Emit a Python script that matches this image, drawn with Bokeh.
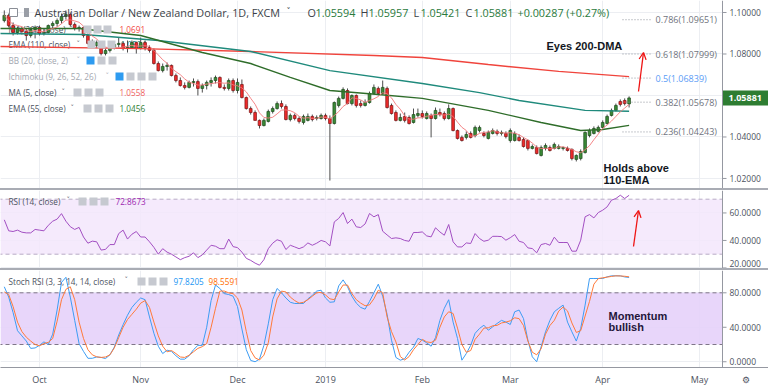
import pandas as pd
from bokeh.plotting import figure
from bokeh.layouts import column
from bokeh.models import (Range1d, FixedTicker, Label, Span, BoxAnnotation, Arrow,
                          OpenHead, Div, ColumnDataSource)
from bokeh.core.properties import value
from bokeh.embed import file_html
from bokeh.resources import INLINE

# ------------------------------------------------------------------ data
bar_index = list(range(-8, 135))   # trading-day index, 0 = 1 Oct 2018

open_px = [1.0961, 1.0986, 1.0937, 1.0904, 1.0923, 1.0908, 1.0889, 1.0918,
           1.0928, 1.0899, 1.0904, 1.0937, 1.0947, 1.0961, 1.0981, 1.0990, 1.0942, 1.0923,
           1.0928, 1.0889, 1.0851, 1.0841, 1.0855, 1.0802, 1.0817, 1.0831, 1.0846, 1.0851,
           1.0826, 1.0831, 1.0855, 1.0826, 1.0855, 1.0831, 1.0817, 1.0754, 1.0720, 1.0740,
           1.0745, 1.0696, 1.0672, 1.0648, 1.0639, 1.0663, 1.0667, 1.0634, 1.0648, 1.0663,
           1.0672, 1.0687, 1.0639, 1.0634, 1.0672, 1.0624, 1.0653, 1.0590, 1.0537, 1.0518,
           1.0480, 1.0455, 1.0475, 1.0523, 1.0537, 1.0561, 1.0547, 1.0484, 1.0504, 1.0489,
           1.0470, 1.0480, 1.0499, 1.0489, 1.0489, 1.0504, 1.0489, 1.0465, 1.0552, 1.0586,
           1.0624, 1.0561, 1.0600, 1.0561, 1.0552, 1.0566, 1.0610, 1.0634, 1.0610, 1.0634,
           1.0552, 1.0518, 1.0480, 1.0499, 1.0494, 1.0470, 1.0504, 1.0513, 1.0489, 1.0504,
           1.0489, 1.0518, 1.0513, 1.0489, 1.0537, 1.0431, 1.0398, 1.0398, 1.0417, 1.0407,
           1.0431, 1.0417, 1.0393, 1.0417, 1.0427, 1.0417, 1.0417, 1.0383, 1.0383, 1.0398,
           1.0388, 1.0383, 1.0345, 1.0349, 1.0311, 1.0345, 1.0349, 1.0345, 1.0345, 1.0345,
           1.0345, 1.0340, 1.0292, 1.0296, 1.0325, 1.0407, 1.0417, 1.0427, 1.0446, 1.0465,
           1.0504, 1.0528, 1.0571, 1.0576, 1.05594]

high_px = [1.1010, 1.0995, 1.0952, 1.0932, 1.0932, 1.0923, 1.0928, 1.0937,
           1.0937, 1.0923, 1.0942, 1.0957, 1.0971, 1.0995, 1.1010, 1.1000, 1.0952, 1.0937,
           1.0932, 1.0899, 1.0870, 1.0865, 1.0860, 1.0826, 1.0841, 1.0855, 1.0879, 1.0860,
           1.0865, 1.0865, 1.0860, 1.0879, 1.0865, 1.0841, 1.0826, 1.0764, 1.0754, 1.0759,
           1.0749, 1.0706, 1.0687, 1.0663, 1.0672, 1.0682, 1.0677, 1.0658, 1.0672, 1.0687,
           1.0696, 1.0692, 1.0653, 1.0682, 1.0682, 1.0682, 1.0677, 1.0595, 1.0547, 1.0528,
           1.0484, 1.0489, 1.0532, 1.0547, 1.0571, 1.0576, 1.0557, 1.0513, 1.0513, 1.0499,
           1.0508, 1.0513, 1.0508, 1.0504, 1.0513, 1.0513, 1.0504, 1.0571, 1.0595, 1.0639,
           1.0634, 1.0605, 1.0605, 1.0576, 1.0581, 1.0619, 1.0653, 1.0643, 1.0672, 1.0643,
           1.0561, 1.0528, 1.0513, 1.0518, 1.0504, 1.0537, 1.0537, 1.0528, 1.0523, 1.0513,
           1.0542, 1.0537, 1.0523, 1.0557, 1.0542, 1.0436, 1.0407, 1.0427, 1.0427, 1.0455,
           1.0455, 1.0427, 1.0431, 1.0441, 1.0436, 1.0431, 1.0427, 1.0441, 1.0427, 1.0412,
           1.0398, 1.0388, 1.0364, 1.0359, 1.0359, 1.0369, 1.0359, 1.0373, 1.0364, 1.0354,
           1.0354, 1.0345, 1.0316, 1.0340, 1.0427, 1.0441, 1.0451, 1.0455, 1.0480, 1.0508,
           1.0537, 1.0561, 1.0581, 1.0586, 1.05957]

low_px = [1.0952, 1.0928, 1.0889, 1.0894, 1.0894, 1.0865, 1.0879, 1.0875,
          1.0889, 1.0889, 1.0899, 1.0918, 1.0932, 1.0947, 1.0966, 1.0932, 1.0913, 1.0908,
          1.0879, 1.0846, 1.0831, 1.0831, 1.0793, 1.0793, 1.0807, 1.0822, 1.0831, 1.0817,
          1.0807, 1.0826, 1.0802, 1.0822, 1.0817, 1.0807, 1.0749, 1.0716, 1.0711, 1.0720,
          1.0692, 1.0663, 1.0643, 1.0629, 1.0634, 1.0643, 1.0600, 1.0614, 1.0629, 1.0643,
          1.0658, 1.0634, 1.0624, 1.0624, 1.0614, 1.0610, 1.0586, 1.0532, 1.0508, 1.0480,
          1.0441, 1.0451, 1.0470, 1.0513, 1.0532, 1.0537, 1.0480, 1.0475, 1.0480, 1.0465,
          1.0460, 1.0475, 1.0475, 1.0480, 1.0484, 1.0480, 1.0190, 1.0460, 1.0542, 1.0581,
          1.0557, 1.0552, 1.0542, 1.0542, 1.0547, 1.0561, 1.0605, 1.0600, 1.0605, 1.0537,
          1.0508, 1.0475, 1.0475, 1.0470, 1.0460, 1.0465, 1.0494, 1.0489, 1.0484, 1.0398,
          1.0484, 1.0499, 1.0480, 1.0484, 1.0427, 1.0388, 1.0378, 1.0388, 1.0393, 1.0398,
          1.0422, 1.0398, 1.0388, 1.0412, 1.0407, 1.0407, 1.0393, 1.0373, 1.0378, 1.0378,
          1.0349, 1.0335, 1.0340, 1.0316, 1.0306, 1.0335, 1.0330, 1.0340, 1.0340, 1.0335,
          1.0330, 1.0287, 1.0282, 1.0287, 1.0320, 1.0398, 1.0412, 1.0422, 1.0441, 1.0460,
          1.0499, 1.0523, 1.0547, 1.0552, 1.05421]

close_px = [1.0986, 1.0937, 1.0904, 1.0923, 1.0908, 1.0889, 1.0918, 1.0928,
            1.0899, 1.0904, 1.0937, 1.0947, 1.0961, 1.0981, 1.0990, 1.0942, 1.0923, 1.0928,
            1.0889, 1.0851, 1.0841, 1.0855, 1.0802, 1.0817, 1.0831, 1.0846, 1.0851, 1.0826,
            1.0831, 1.0855, 1.0826, 1.0855, 1.0831, 1.0817, 1.0754, 1.0720, 1.0740, 1.0745,
            1.0696, 1.0672, 1.0648, 1.0639, 1.0663, 1.0667, 1.0634, 1.0648, 1.0663, 1.0672,
            1.0687, 1.0639, 1.0634, 1.0672, 1.0624, 1.0663, 1.0590, 1.0537, 1.0518, 1.0480,
            1.0455, 1.0480, 1.0523, 1.0537, 1.0561, 1.0547, 1.0484, 1.0504, 1.0489, 1.0475,
            1.0499, 1.0499, 1.0484, 1.0494, 1.0504, 1.0489, 1.0465, 1.0566, 1.0586, 1.0629,
            1.0561, 1.0600, 1.0552, 1.0552, 1.0566, 1.0610, 1.0639, 1.0610, 1.0639, 1.0542,
            1.0513, 1.0480, 1.0494, 1.0480, 1.0465, 1.0508, 1.0513, 1.0499, 1.0513, 1.0489,
            1.0528, 1.0508, 1.0489, 1.0537, 1.0431, 1.0393, 1.0383, 1.0412, 1.0398, 1.0446,
            1.0446, 1.0407, 1.0422, 1.0431, 1.0417, 1.0422, 1.0402, 1.0431, 1.0417, 1.0383,
            1.0354, 1.0345, 1.0354, 1.0320, 1.0349, 1.0359, 1.0335, 1.0364, 1.0354, 1.0349,
            1.0335, 1.0296, 1.0311, 1.0330, 1.0422, 1.0431, 1.0441, 1.0446, 1.0470, 1.0499,
            1.0528, 1.0552, 1.0557, 1.0561, 1.05881]

# moving-average lines (vertices)
ma200_idx = [-9, 23, 48, 76, 87, 102, 118, 134]
ma200_val = [1.0836, 1.0826, 1.0812, 1.0793, 1.0783, 1.0749, 1.0716, 1.0691]
ema110_idx = [-9, 10, 27, 48, 66, 87, 100, 109, 124, 134]
ema110_val = [1.0899, 1.0894, 1.0865, 1.0812, 1.0720, 1.0658, 1.0614, 1.0576, 1.0528, 1.0524]
ema55_idx = [-9, 9, 23, 37, 48, 57, 66, 77, 87, 102, 114, 123, 128, 134]
ema55_val = [1.0923, 1.0923, 1.0889, 1.0807, 1.0754, 1.0687, 1.0624, 1.0605, 1.0586,
             1.0528, 1.0470, 1.0431, 1.0436, 1.0456]

rsi_val = [55, 47, 46.5, 47.5, 46, 45.5, 45.5, 48,
           47.5, 47, 51, 54, 55.5, 59.5, 54, 50, 48, 49.5,
           42.5, 38, 39.5, 39, 33, 33.5, 37, 37, 45, 47.5,
           41, 44.5, 46.5, 42.5, 42.5, 39, 35, 30, 34, 31.5,
           30, 28, 26, 27.5, 28.5, 31, 27.5, 29.5, 33, 36.5,
           35.8, 34, 34, 41, 35.5, 34.8, 31.5, 27, 25.5, 23.5,
           22, 26, 34, 38, 40.5, 39.4, 33.4, 36.5, 35.3, 34,
           35.3, 38.2, 36.5, 38, 40, 39, 36, 53.5, 56, 60.3,
           52.3, 55.5, 49.9, 49.4, 52, 59.6, 57.2, 58.8, 46.7, 44,
           41.4, 41.9, 41.4, 40, 39.4, 45.8, 45.8, 46.2, 43.3, 42.6,
           49.2, 46.2, 43.8, 51.6, 39, 35.3, 35.3, 38.2, 37.8, 45,
           41.4, 39.4, 40.2, 43, 43, 42.8, 40.2, 42, 44.3, 39.4,
           38.5, 34.6, 34.1, 31, 37, 37.8, 36.5, 42.4, 38.5, 38.5,
           38.5, 32.2, 32.2, 40.2, 57.2, 58.8, 56.4, 60.3, 62, 64.4,
           69.3, 70.5, 72.9, 70.5, 72.87]

stoch_k = [87, 75, 57, 36, 30, 24, 15.5, 16,
           19, 23, 20, 32, 60, 92, 98, 75, 48, 21,
           12, 4, 4, 5.5, 5, 3.7, 8, 17, 31, 43,
           54, 63, 69, 74, 72, 52, 33, 18, 9.5, 13.4,
           12, 7, 3, 3, 7, 14, 19, 19, 40, 71,
           89, 85, 79, 78, 76, 64, 38, 14, 1.5, 0,
           3, 19, 44, 72, 85, 80, 74, 69, 67.6, 67.6,
           67.6, 73, 77, 82, 83, 74, 69, 69.5, 88, 95,
           87, 76, 68, 63, 61, 70, 80, 90, 76, 55,
           25, 5, 1.8, 3.5, 11, 17, 27, 25, 22, 18,
           28, 48, 62, 72, 46, 27, 1.8, 9.5, 19, 33,
           38.6, 42.4, 36.6, 40.5, 44.4, 48, 46, 43.2, 58, 60,
           50, 25, 5.7, 0, 17.3, 34.7, 48, 58, 62, 65.7,
           46, 34.7, 24, 38.6, 65.7, 96.6, 96.6, 96.6, 96.6, 98.5,
           99.7, 99.7, 99.7, 98.4, 97.82]

stoch_d = [81, 78, 64, 46, 35, 28.5, 24, 20,
           18.5, 21, 22.5, 27, 47, 72, 84, 87, 72, 46,
           27, 14, 8, 5.7, 5, 5.5, 8, 16, 28, 40,
           49, 55, 61, 68, 71, 63, 46, 30, 18, 11.5,
           13, 9.5, 5.5, 5, 7.5, 11.5, 15.5, 17.5, 21, 40,
           62, 82, 82, 80, 79, 74, 60, 35, 13, 4.5,
           2, 7.6, 22, 52, 73, 82, 81, 75, 71, 68,
           69, 72, 76, 80, 80.5, 77.5, 73, 72, 81, 89,
           89, 79, 72, 68, 65, 66, 73, 83, 80, 52,
           35, 23, 6, 2, 6, 14, 20, 26, 23, 22.3,
           25, 40, 52, 58, 56, 39, 20, 11, 13, 26,
           32, 39, 39.4, 41.7, 42.2, 45, 46, 47.5, 51, 50,
           42, 24, 11, 8, 15, 32, 42, 48, 58.7, 63.5,
           59, 45, 34, 36, 53, 70, 90, 96.5, 97.4, 98.2,
           99, 99.7, 99.5, 99.2, 98.56]

month_ticks = [0, 23, 45, 65, 87, 107, 128, 150]
month_labels = ["Oct", "Nov", "Dec", "2019", "Feb", "Mar", "Apr", "May"]
price_ticks = [1.02, 1.04, 1.06, 1.08, 1.10]
rsi_ticks = [20, 40, 60]
stoch_ticks = [0, 40, 80]
fib_ratio = ["0.786", "0.618", "0.5", "0.382", "0.236"]
fib_price = [1.09651, 1.07999, 1.06839, 1.05678, 1.04243]
last_price = 1.05881

# ------------------------------------------------- reference pixel -> data
def X(px):
    return (px - 39.0) / 4.4

def YP(py):
    return 1.10578 - 0.000482 * py

def YR(py):
    return 70 - (py - 198.7) / 1.375

def YS(py):
    return 80 - (py - 292.3) / 0.8617

W = 768
FONT = "Open Sans"
BFONT = "Liberation Sans"
GRID = "#eceef2"
AXC = "#9598a1"
TXT = "#4c525e"
LTXT = "#a3a7b0"
SCALE_X = 722          # left edge of the price scale, in chart pixels

xr = Range1d(X(0), X(768))


def make_fig(h, yr, bottom=False):
    p = figure(width=W, height=h, x_range=xr, y_range=yr, output_backend="svg",
               toolbar_location=None, y_axis_location=None,
               x_axis_location="below" if bottom else None,
               min_border_left=0, min_border_right=0, min_border_top=0,
               min_border_bottom=21 if bottom else 0)
    p.outline_line_color = None
    p.xgrid.ticker = FixedTicker(ticks=month_ticks)
    p.xgrid.grid_line_color = GRID
    p.ygrid.grid_line_color = GRID
    if bottom:
        xa = p.xaxis[0]
        xa.ticker = FixedTicker(ticks=month_ticks + [160.5])
        ov = {t: s for t, s in zip(month_ticks, month_labels)}
        ov[160.5] = "\u2699"
        xa.major_label_overrides = ov
        xa.axis_line_color = AXC
        xa.major_tick_line_color = None
        xa.major_tick_out = 0
        xa.minor_tick_line_color = None
        xa.major_label_text_font = FONT
        xa.major_label_text_font_size = "9px"
        xa.major_label_text_color = TXT
        xa.major_label_standoff = 5
    return p


def price_scale(p, ticks, fmt, offsets=None):
    """Right-hand value scale, drawn through the figure's y scale."""
    p.ygrid.ticker = FixedTicker(ticks=ticks)
    p.add_layout(BoxAnnotation(left=X(SCALE_X), fill_color="white", fill_alpha=1,
                               line_color=None, level="underlay"))
    p.add_layout(Span(location=X(SCALE_X), dimension="height", line_color=AXC,
                      line_width=1))
    n = len(ticks)
    p.segment(x0=[X(SCALE_X)] * n, x1=[X(SCALE_X + 4)] * n, y0=ticks, y1=ticks,
              line_color=AXC, line_width=1)
    p.text(x=[X(SCALE_X + 7)] * n, y=ticks, text=[fmt % t for t in ticks],
           y_offset=offsets if offsets else [0] * n,
           text_font=value(FONT), text_font_size="8.5px", text_color=TXT,
           text_baseline="middle", text_align="left")


def txt(p, x, y, s, color=TXT, size="8px", font=FONT, style="normal",
        level="annotation", align="left"):
    p.add_layout(Label(x=x, y=y, text=s, text_color=color, text_font_size=size,
                       text_font=font, text_font_style=style, text_baseline="middle",
                       text_align=align, level=level))


def icons(p, xs, yv, first_blue=False):
    cols = ["#c6c9d0"] * len(xs)
    if first_blue:
        cols[0] = "#2e9bf0"
    p.rect(x=[X(v) for v in xs], y=[yv] * len(xs), width=8, height=8,
           width_units="screen", height_units="screen", fill_color=cols,
           line_color=None)


# ------------------------------------------------------------ price panel
p1 = make_fig(188, Range1d(YP(188), YP(0)))

up = [c >= o for o, c in zip(open_px, close_px)]
src = ColumnDataSource(dict(
    x=bar_index, h=high_px, l=low_px,
    top=[max(o, c) for o, c in zip(open_px, close_px)],
    bot=[min(o, c) for o, c in zip(open_px, close_px)],
    fill=["#3b8a37" if u else "#ee2a2a" for u in up],
    edge=["#1d4a1b" if u else "#7a1414" for u in up]))

ma5 = pd.Series(close_px).rolling(5, min_periods=1).mean().tolist()

# legend text (behind the candles, as in the reference)
rows = [(29, "MA (200, close)", TXT), (44, "EMA (110, close)", TXT),
        (60, "BB (20, close, 2)", LTXT), (76, "Ichimoku (9, 26, 52, 26)", LTXT),
        (92, "MA (5, close)", TXT), (108, "EMA (55, close)", TXT)]
chev_x = [69, 76, 76, 105, 61, 70]
for (ry, s, col), cx in zip(rows, chev_x):
    txt(p1, X(8), YP(ry), s, col, "8.2px", level="underlay")
    txt(p1, X(cx), YP(ry) + 0.0004, "\u02c5", col, "7px", font="DejaVu Sans", level="underlay")
txt(p1, X(119), YP(29), "1.0691", "#f2453d", "8.2px", level="underlay")
txt(p1, X(120), YP(44), "1.0524", "#1f8f80", "8.2px", level="underlay")
txt(p1, X(119), YP(92), "1.0558", "#f0605d", "8.2px", level="underlay")
txt(p1, X(119), YP(108), "1.0456", "#2e7d32", "8.2px", level="underlay")

price_scale(p1, price_ticks, "%.5f")

p1.segment(x0="x", y0="h", x1="x", y1="l", source=src, line_color="#4d4d4d", line_width=1)
p1.vbar(x="x", width=0.62, top="top", bottom="bot", fill_color="fill",
        line_color="edge", line_width=0.7, source=src)

p1.line(ma200_idx, ma200_val, line_color="#f0443c", line_width=1.4)
p1.line(ema110_idx, ema110_val, line_color="#1f8a7c", line_width=1.4)
p1.line(ema55_idx, ema55_val, line_color="#2f6d2a", line_width=1.4)
p1.line(bar_index, ma5, line_color="#f3787a", line_width=0.9)

# fibonacci levels
p1.segment(x0=[X(622)] * len(fib_price), y0=fib_price,
           x1=[X(652)] * len(fib_price), y1=fib_price,
           line_color="#8f939c", line_dash="1 2", line_width=1)
for r, v in zip(fib_ratio, fib_price):
    txt(p1, X(655), v, "%s(%.5f)" % (r, v), "#5b9cf6" if r == "0.5" else "#6f737d", "9px")

# legend icons
icons(p1, [87, 97, 107], YP(29))
icons(p1, [91, 101, 111], YP(44))
icons(p1, [90, 101, 112], YP(60), first_blue=True)
icons(p1, [119, 130, 141, 152], YP(76), first_blue=True)
icons(p1, [77, 88, 99], YP(92))
icons(p1, [87, 98, 109], YP(108))

# title row
p1.rect(x=[X(13)], y=[YP(12)], width=8, height=8, width_units="screen",
        height_units="screen", fill_color="white", line_color="#8a8e96")
p1.rect(x=[X(26)], y=[YP(12)], width=5, height=9, width_units="screen",
        height_units="screen", fill_color="#9a9ea6", line_color=None)
txt(p1, X(34), YP(12), "Australian Dollar / New Zealand Dollar, 1D, FXCM", "#3b3f47", "10.8px")
txt(p1, X(286), YP(12) + 0.0004, "\u02c5", "#3b3f47", "8px", font="DejaVu Sans")
GREEN_T = "#2a7a3c"
for lx, letter, vx, val in [(307, "O", 315, "1.05594"), (360, "H", 368, "1.05957"),
                            (413, "L", 420, "1.05421"), (465, "C", 473, "1.05881")]:
    txt(p1, X(lx), YP(12), letter, "#3b3f47", "10.8px")
    txt(p1, X(vx), YP(12), val, GREEN_T, "10.8px")
txt(p1, X(517), YP(12), "+0.00287 (+0.27%)", GREEN_T, "10.8px")

# annotations
txt(p1, X(546), YP(45), "Eyes 200-DMA", "#131722", "11px", font=BFONT, style="bold")
txt(p1, X(603), YP(167), "Holds above", "#131722", "11px", font=BFONT, style="bold")
txt(p1, X(603), YP(179), "110-EMA", "#131722", "11px", font=BFONT, style="bold")
p1.add_layout(Arrow(end=OpenHead(size=7, line_color="#ee1414", line_width=1.3),
                    x_start=X(638), y_start=YP(91), x_end=X(643), y_end=YP(52),
                    line_color="#ee1414", line_width=1.3))

# last-price tag on the price scale
p1.rect(x=[X((SCALE_X + 768) / 2)], y=[last_price], width=46, height=15,
        width_units="screen", height_units="screen", fill_color="#2e7d32",
        line_color=None)
p1.text(x=[X(SCALE_X + 6)], y=[last_price], text=["1.05881"], text_color="white",
        text_font=value(FONT), text_font_size="9px", text_font_style="bold",
        text_baseline="middle", text_align="left")

# --------------------------------------------------------------- RSI panel
p2 = make_fig(78, Range1d(YR(268), YR(190)))
p2.add_layout(BoxAnnotation(bottom=30, top=70, right=X(SCALE_X), fill_color="#f3e6fb",
                            fill_alpha=0.85, line_color=None, level="underlay"))
price_scale(p2, rsi_ticks, "%.4f", offsets=[-4, 0, 0])
p2.segment(x0=[X(-2)] * 2, x1=[X(SCALE_X)] * 2, y0=[30, 70], y1=[30, 70],
           line_color="#b8abc6", line_dash="4 3", line_width=1)
p2.line(bar_index, rsi_val, line_color="#a24fc2", line_width=1)
txt(p2, X(8), YR(201), "RSI (14, close)", TXT, "8.2px")
txt(p2, X(66), YR(201) + 0.8, "\u02c5", TXT, "7px", font="DejaVu Sans")
icons(p2, [82, 93, 104], YR(201))
txt(p2, X(115), YR(201), "72.8673", "#9c27b0", "8.2px")
p2.add_layout(Arrow(end=OpenHead(size=7, line_color="#ee1414", line_width=1.3),
                    x_start=X(633), y_start=YR(246), x_end=X(638), y_end=YR(210),
                    line_color="#ee1414", line_width=1.3))

# --------------------------------------------------------- Stoch RSI panel
p3 = make_fig(118, Range1d(YS(367), YS(270)), bottom=True)
p3.add_layout(BoxAnnotation(bottom=20, top=80, right=X(SCALE_X), fill_color="#e6d2fa",
                            fill_alpha=0.9, line_color=None, level="underlay"))
price_scale(p3, stoch_ticks, "%.4f")
p3.segment(x0=[X(-2)] * 2, x1=[X(SCALE_X)] * 2, y0=[20, 80], y1=[20, 80],
           line_color="#7f7688", line_dash="4 3", line_width=1)
p3.line(bar_index, stoch_k, line_color="#3d9cf3", line_width=1)
p3.line(bar_index, stoch_d, line_color="#ff7a3a", line_width=1)
txt(p3, X(8), YS(281), "Stoch RSI (3, 3, 14, 14, close)", TXT, "8.2px")
txt(p3, X(124), YS(281) + 1.2, "\u02c5", TXT, "7px", font="DejaVu Sans")
icons(p3, [141, 152, 163], YS(281))
txt(p3, X(173), YS(281), "97.8205", "#2196f3", "8.2px")
txt(p3, X(208), YS(281), "98.5591", "#ff6d00", "8.2px")
txt(p3, X(608), YS(315), "Momentum", "#24163a", "11px", font=BFONT, style="bold")
txt(p3, X(608), YS(326), "bullish", "#24163a", "11px", font=BFONT, style="bold")


def sep():
    return Div(text="", width=W, height=2, margin=0,
               styles={"background-color": "#a9acb4"})


layout = column(p1, sep(), p2, sep(), p3, spacing=0)
open("out.html", "w").write(file_html(layout, INLINE))
